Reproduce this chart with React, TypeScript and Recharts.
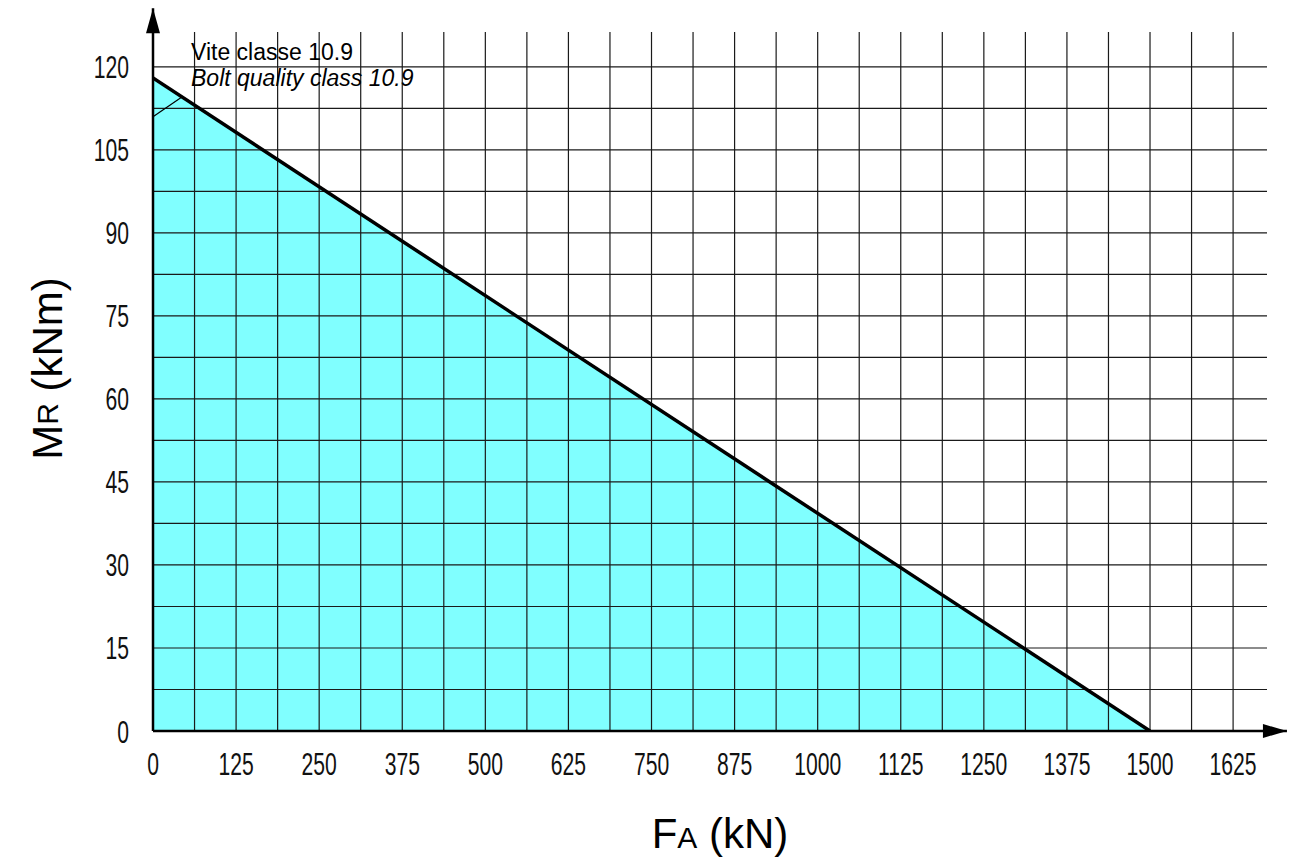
import React from 'react';
import {
    ComposedChart,
    Area,
    Line,
    XAxis,
    YAxis,
    ReferenceLine,
    ReferenceDot,
    Label
} from 'recharts';

// limit curve (FA kN -> MR kNm)
const faValues = [0, 1500];
const mrValues = [118, 0];

// grid steps: labelled every 125 kN / 15 kNm, lines every half step
const xTicks = [0, 62.5, 125, 187.5, 250, 312.5, 375, 437.5, 500, 562.5, 625, 687.5, 750, 812.5, 875, 937.5, 1000, 1062.5, 1125, 1187.5, 1250, 1312.5, 1375, 1437.5, 1500, 1562.5, 1625];
const xLabels = ['0', '125', '250', '375', '500', '625', '750', '875', '1000', '1125', '1250', '1375', '1500', '1625'];
const yTicks = [0, 7.5, 15, 22.5, 30, 37.5, 45, 52.5, 60, 67.5, 75, 82.5, 90, 97.5, 105, 112.5, 120];
const yLabels = ['0', '15', '30', '45', '60', '75', '90', '105', '120'];

const chartData = faValues.map((fa, i) => ({ fa, mr: mrValues[i] }));

const FONT = '"Liberation Sans", Arial, sans-serif';

const XTick = (props: any) => {
    const { x, y, payload } = props;
    const label = String(payload.value);
    if (!xLabels.includes(label)) return null;
    return (
        <text transform={`translate(${x},${y + 36}) scale(0.66,1)`} textAnchor="middle" fontSize={32} fill="#111" fontFamily={FONT}>
            {label}
        </text>
    );
};

const YTick = (props: any) => {
    const { x, y, payload } = props;
    const label = String(payload.value);
    if (!yLabels.includes(label)) return null;
    return (
        <text transform={`translate(${x - 16},${y + 11.5}) scale(0.66,1)`} textAnchor="end" fontSize={32} fill="#111" fontFamily={FONT}>
            {label}
        </text>
    );
};

const ArrowAxis = (dir: 'x' | 'y') => (props: any) => {
    const { x1, y1, x2, y2 } = props;
    const head = dir === 'x'
        ? `${x2},${y2} ${x2 - 24},${y2 - 7} ${x2 - 24},${y2 + 7}`
        : `${x2},${y2} ${x2 - 7},${y2 + 25} ${x2 + 7},${y2 + 25}`;
    return (
        <g>
            <line x1={x1} y1={y1} x2={x2} y2={y2} stroke="#000" strokeWidth={2.5} />
            <polygon points={head} fill="#000" />
        </g>
    );
};

const Note = (props: any) => {
    const { cx, cy } = props;
    return (
        <g fontFamily={FONT} fontSize={23} fill="#000">
            <text x={cx} y={cy}>Vite classe 10.9</text>
            <text x={cx} y={cy + 26} fontStyle="italic">Bolt quality class 10.9</text>
        </g>
    );
};

const XTitle = (props: any) => {
    const { viewBox } = props;
    return (
        <text x={720} y={viewBox.y + 117} textAnchor="middle" fontFamily={FONT} fill="#000" fontSize={42}>
            F<tspan fontSize={30}>A</tspan> (kN)
        </text>
    );
};

const YTitle = (props: any) => {
    const { viewBox } = props;
    const cy = viewBox.y + viewBox.height / 2 - 13;
    return (
        <text x={47} y={cy} transform={`rotate(-90, 47, ${cy})`} textAnchor="middle" dominantBaseline="central" fontFamily={FONT} fill="#000" fontSize={42}>
            M<tspan fontSize={30}>R</tspan> (kNm)
        </text>
    );
};

export default function App() {
    return (
        <div style={{ position: 'absolute', left: 0, top: 0, background: '#fff' }}>
            <ComposedChart width={1297} height={857} data={chartData} margin={{ top: 32, right: 30, bottom: 0, left: 0 }}>
                <XAxis
                    dataKey="fa"
                    type="number"
                    domain={[0, 1676]}
                    ticks={xTicks}
                    interval={0}
                    axisLine={false}
                    tickLine={false}
                    height={126}
                    tick={<XTick />}
                    allowDataOverflow
                >
                    <Label content={<XTitle />} />
                </XAxis>
                <YAxis
                    type="number"
                    domain={[0, 126.3]}
                    ticks={yTicks}
                    interval={0}
                    axisLine={false}
                    tickLine={false}
                    width={153}
                    tick={<YTick />}
                    allowDataOverflow
                >
                    <Label content={<YTitle />} />
                </YAxis>
                <Area
                    type="linear"
                    dataKey="mr"
                    fill="#80FFFF"
                    fillOpacity={1}
                    stroke="none"
                    isAnimationActive={false}
                />
                {/* grid drawn over the fill */}
                {xTicks.map((v) => (
                    <ReferenceLine key={`gx${v}`} x={v} stroke="#1a1a1a" strokeWidth={1.2} />
                ))}
                {yTicks.map((v) => (
                    <ReferenceLine key={`gy${v}`} y={v} stroke="#1a1a1a" strokeWidth={1.2} />
                ))}
                <Line
                    type="linear"
                    dataKey="mr"
                    stroke="#000"
                    strokeWidth={3.5}
                    dot={false}
                    isAnimationActive={false}
                />
                <ReferenceLine segment={[{ x: 0, y: 111 }, { x: 44, y: 114.6 }]} stroke="#000" strokeWidth={1.2} />
                <ReferenceLine segment={[{ x: 0, y: 0 }, { x: 1706, y: 0 }]} ifOverflow="visible" shape={ArrowAxis('x')} />
                <ReferenceLine segment={[{ x: 0, y: 0 }, { x: 0, y: 130.6 }]} ifOverflow="visible" shape={ArrowAxis('y')} />
                <ReferenceDot x={57.2} y={121.3} r={0} ifOverflow="visible" shape={<Note />} />
            </ComposedChart>
        </div>
    );
}
